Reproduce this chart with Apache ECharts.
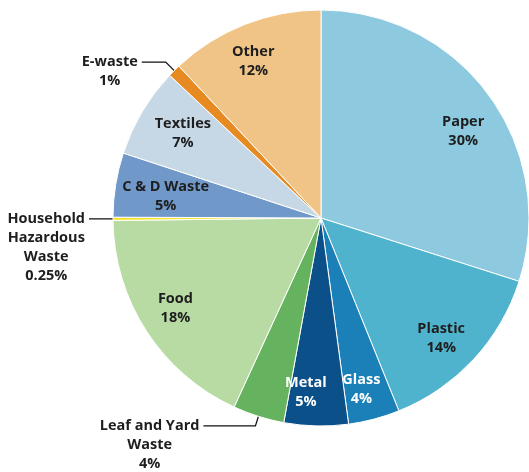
<!DOCTYPE html>
<html>
<head>
<meta charset="utf-8">
<script src="https://cdn.jsdelivr.net/npm/echarts@6/dist/echarts.min.js"></script>
<style>
  html, body { margin: 0; padding: 0; background: #ffffff; }
  #chart { width: 529px; height: 472px; }
</style>
</head>
<body>
<div id="chart"></div>
<script>
// Waste composition by material, share of total
const categories = ['Paper', 'Plastic', 'Glass', 'Metal', 'Leaf and Yard Waste', 'Food',
  'Household Hazardous Waste', 'C & D Waste', 'Textiles', 'E-waste', 'Other'];
const shares = [30, 14, 4, 5, 4, 18, 0.25, 5, 7, 1, 12];
const shareLabels = ['30%', '14%', '4%', '5%', '4%', '18%', '0.25%', '5%', '7%', '1%', '12%'];
// how each category name is broken across lines in its label
const nameLines = [['Paper'], ['Plastic'], ['Glass'], ['Metal'], ['Leaf and Yard', 'Waste'], ['Food'],
  ['Household', 'Hazardous', 'Waste'], ['C & D Waste'], ['Textiles'], ['E-waste'], ['Other']];

const colors = ['#8dcae0', '#4fb3ce', '#1a80b7', '#0b5088', '#66b35f', '#b8dba3',
  '#f3e52a', '#7098c8', '#c6d8e5', '#e78a22', '#f0c486'];

// small slices labelled outside with a leader line
const outside = {
  'Leaf and Yard Waste': { length: 10, length2: 52 },
  'Household Hazardous Waste': { length: 8, length2: 16 },
  'E-waste': { length: 12, length2: 24 }
};
// nudges for the inside labels
const labelNudge = {
  'Paper': [2, 16],
  'Plastic': [-7, 2],
  'Glass': [-4, 4],
  'Metal': [-11, 1],
  'Food': [0, -4],
  'C & D Waste': [16, 6],
  'Textiles': [11, 4],
  'Other': [-4, 5]
};
const lightText = { 'Glass': true, 'Metal': true };

const FONT = '"Open Sans", "Noto Sans", sans-serif';
const FONT_SIZE = 14.5;
const LINE_H = 19;

function labelText(i) {
  return nameLines[i].concat([shareLabels[i]]).map(s => '{c|' + s + '}').join('\n');
}

const center = [321, 218];
const R = 208;

const mainData = categories.map((name, i) => {
  const item = { name: name, value: shares[i], itemStyle: { color: colors[i] } };
  const o = outside[name];
  if (o) {
    const n = nameLines[i].length + 1;
    item.label = {
      show: true,
      position: 'outside',
      formatter: labelText(i),
      padding: [(n - 1) * LINE_H, 0, 0, 0],
      distanceToLabelLine: 4,
      rich: { c: { align: 'center', fontFamily: FONT, fontWeight: 'bold', fontSize: FONT_SIZE, lineHeight: LINE_H, color: '#1e1e1e' } }
    };
    item.labelLine = { show: true, length: o.length, length2: o.length2, smooth: false,
      lineStyle: { color: '#111111', width: 1.3 } };
  } else {
    item.label = { show: false };
    item.labelLine = { show: false };
  }
  return item;
});

const innerData = categories.map((name, i) => {
  const item = { name: name, value: shares[i] };
  if (outside[name]) {
    item.label = { show: false };
  } else {
    item.label = {
      show: true,
      formatter: labelText(i),
      rich: { c: { align: 'center', fontFamily: FONT, fontWeight: 'bold', fontSize: FONT_SIZE, lineHeight: LINE_H,
        color: lightText[name] ? '#ffffff' : '#1e1e1e' } }
    };
  }
  return item;
});

const chart = echarts.init(document.getElementById('chart'), null, { renderer: 'canvas' });
chart.setOption({
  animation: false,
  backgroundColor: '#ffffff',
  series: [
    {
      type: 'pie',
      center: center,
      radius: R,
      startAngle: 90,
      clockwise: true,
      avoidLabelOverlap: false,
      silent: true,
      itemStyle: { borderColor: '#ffffff', borderWidth: 1 },
      emphasis: { disabled: true },
      label: { show: false },
      labelLine: { show: false },
      data: mainData
    },
    {
      // transparent ring that carries the inside labels further out from the centre
      type: 'pie',
      center: center,
      radius: [R * 0.64, R],
      startAngle: 90,
      clockwise: true,
      avoidLabelOverlap: false,
      silent: true,
      itemStyle: { color: 'rgba(0,0,0,0)', borderWidth: 0 },
      emphasis: { disabled: true },
      label: { show: true, position: 'inside' },
      labelLine: { show: false },
      labelLayout: function (params) {
        const nudge = labelNudge[categories[params.dataIndex]];
        return nudge ? { dx: nudge[0], dy: nudge[1] } : {};
      },
      data: innerData
    }
  ]
});
</script>
</body>
</html>
